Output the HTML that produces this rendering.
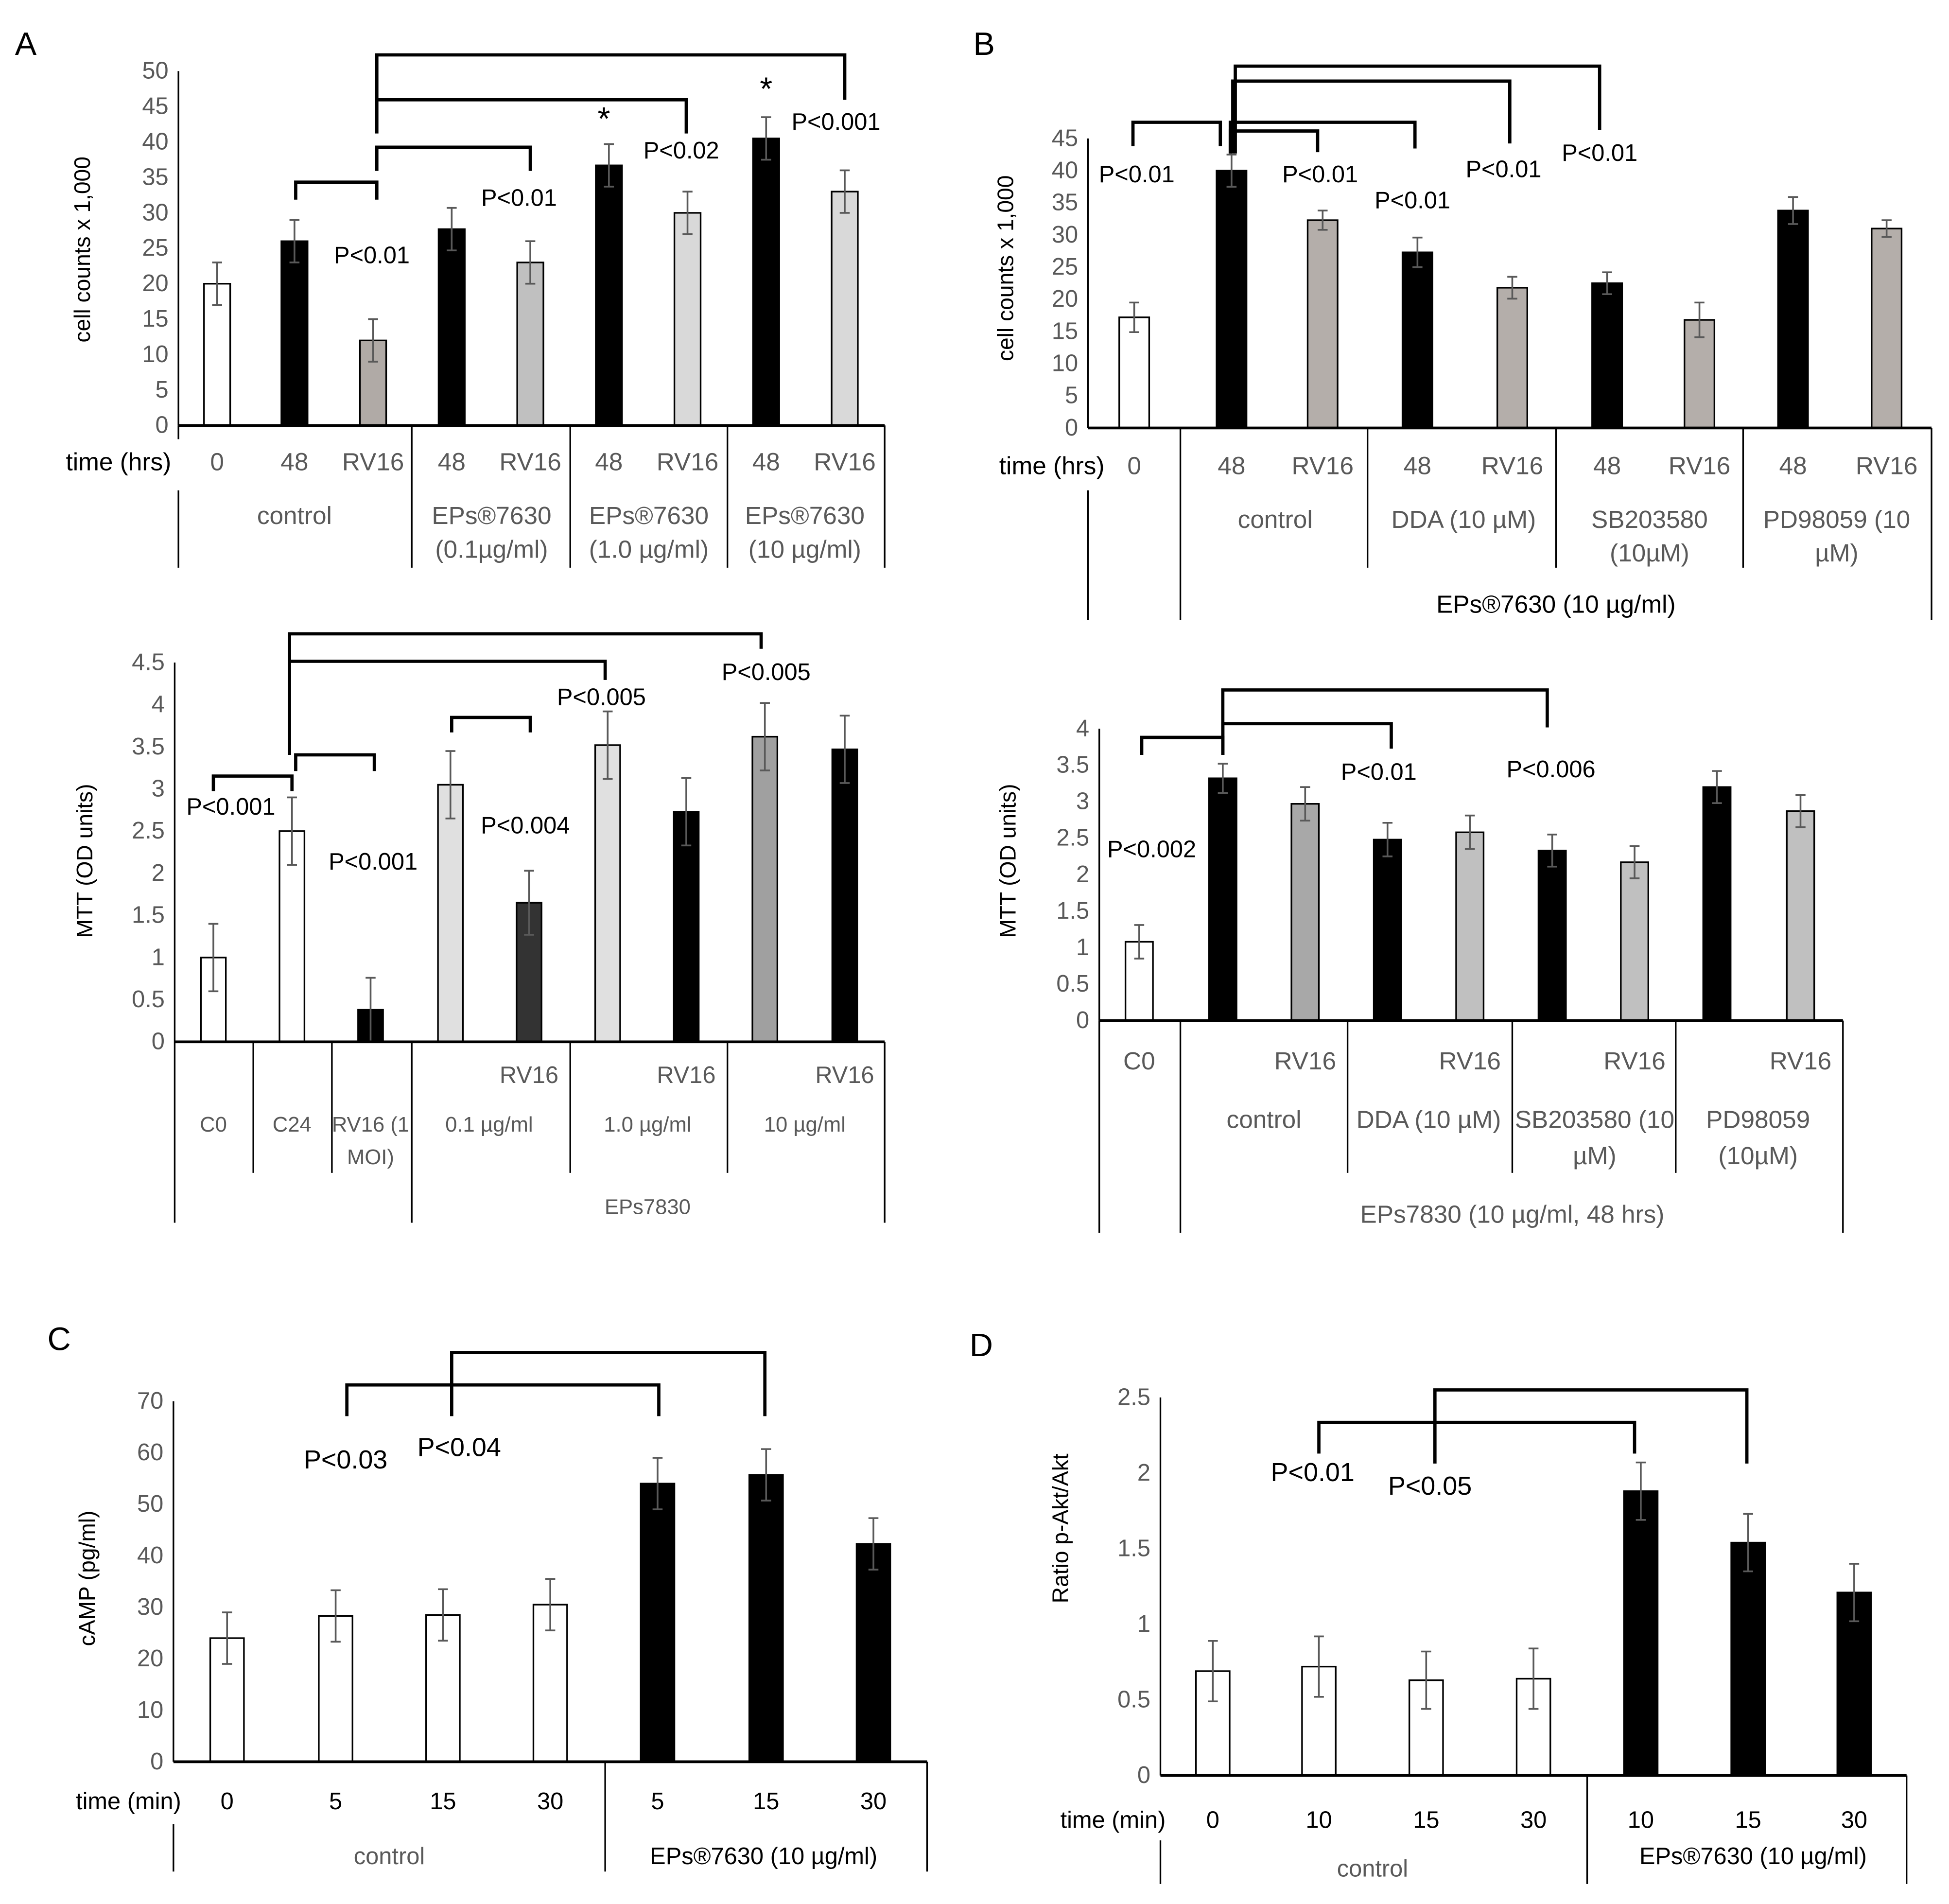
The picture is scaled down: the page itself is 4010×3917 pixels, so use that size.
<!DOCTYPE html>
<html><head><meta charset="utf-8">
<style>
html,body{margin:0;padding:0;background:#fff;}
svg{display:block;}
text{font-family:"Liberation Sans Narrow","Liberation Sans",sans-serif;}
</style></head>
<body>
<svg id="fig" width="4010" height="3917" viewBox="0 0 1562 1526" preserveAspectRatio="none" xmlns="http://www.w3.org/2000/svg">
<text x="12" y="44" font-size="26">A</text>
<text x="780" y="44" font-size="26">B</text>
<text x="38" y="1082" font-size="26">C</text>
<text x="777" y="1087" font-size="26">D</text>
</svg>
<script>
// ---- data ----
const a1Labels = ["0","48","RV16","48","RV16","48","RV16","48","RV16"];
const a1Values = [20,26,12,27.7,23,36.7,30,40.5,33];
const a1Errors = [3,3,3,3,3,3,3,3,3];
const a1Ticks = [0,5,10,15,20,25,30,35,40,45,50];

const a2Values = [1.0,2.5,0.38,3.05,1.65,3.52,2.73,3.62,3.47];
const a2Errors = [0.4,0.4,0.38,0.4,0.38,0.4,0.4,0.4,0.4];
const a2Ticks = [0,0.5,1,1.5,2,2.5,3,3.5,4,4.5];

const b1Labels = ["0","48","RV16","48","RV16","48","RV16","48","RV16"];
const b1Values = [17.2,40,32.3,27.3,21.8,22.5,16.8,33.8,31];
const b1Errors = [2.3,2.5,1.5,2.3,1.7,1.7,2.7,2.1,1.3];
const b1Ticks = [0,5,10,15,20,25,30,35,40,45];

const b2Values = [1.08,3.32,2.97,2.48,2.58,2.33,2.17,3.2,2.87];
const b2Errors = [0.23,0.2,0.23,0.23,0.23,0.22,0.22,0.22,0.22];
const b2Ticks = [0,0.5,1,1.5,2,2.5,3,3.5,4];

const cLabels = ["0","5","15","30","5","15","30"];
const cValues = [24,28.3,28.5,30.5,54,55.7,42.3];
const cErrors = [5,5,5,5,5,5,5];
const cTicks = [0,10,20,30,40,50,60,70];

const dLabels = ["0","10","15","30","10","15","30"];
const dValues = [0.69,0.72,0.63,0.64,1.88,1.54,1.21];
const dErrors = [0.2,0.2,0.19,0.2,0.19,0.19,0.19];
const dTicks = [0,0.5,1,1.5,2,2.5];

const NS="http://www.w3.org/2000/svg";
const svg=document.getElementById('fig');
function el(tag,attrs,parent){const e=document.createElementNS(NS,tag);for(const k in attrs)e.setAttribute(k,attrs[k]);(parent||svg).appendChild(e);return e;}
function line(x1,y1,x2,y2,w,name,p){const l=el('line',{x1,y1,x2,y2,stroke:'#000','stroke-width':w||1.3},p);

return l;}
function txt(x,y,s,size,color,name,anchor,p){const t=el('text',{x,y,'font-size':size,fill:color||'#000','text-anchor':anchor||'middle'},p);t.textContent=s;

return t;}
function bracket(x1,x2,top,yl,yr,name){const p=el('path',{d:`M${x1},${yl} L${x1},${top} L${x2},${top} L${x2},${yr}`,fill:'none',stroke:'#000','stroke-width':2.6});

}

function chart(cfg){
  const g=el('g',{});
  
  
  const y=v=>cfg.y0-(v-cfg.ticks[0])/(cfg.ticks[cfg.ticks.length-1]-cfg.ticks[0])*(cfg.y0-cfg.yTop);
  cfg.ticks.forEach(t=>{txt(cfg.ax-8,y(t)+6,String(t),cfg.tickSize||19,'#595959','y-tick-label','end',g);});
  line(cfg.ax,y(cfg.ticks[cfg.ticks.length-1]),cfg.ax,cfg.y0,1.3,'y-axis',g);
  cfg.values.forEach((v,i)=>{
    const cx=cfg.xs[i],w=cfg.bw;
    const r=el('rect',{x:cx-w/2,y:y(v),width:w,height:cfg.y0-y(v),fill:cfg.colors[i],stroke:'#000','stroke-width':1.3},g);
    
    
    const e=cfg.errors[i],c='#595959';
    const eb=el('path',{d:`M${cx},${y(v+e)} L${cx},${y(Math.max(0,v-e))} M${cx-4},${y(v+e)} L${cx+4},${y(v+e)} M${cx-4},${y(Math.max(0,v-e))} L${cx+4},${y(Math.max(0,v-e))}`,stroke:c,'stroke-width':1.4,fill:'none'},g);
    
    
  });
  line(cfg.ax,cfg.y0,cfg.axEnd,cfg.y0,2.2,'x-axis',g);
  return y;
}

// Panel A top
chart({name:'panel-a-cell-counts',ax:143,axEnd:709,y0:341,yTop:57,ticks:a1Ticks,values:a1Values,errors:a1Errors,bw:21,
 xs:[174,236,299,362,425,488,551,614,677],colors:['#fff','#000','#b0aaa6','#000','#c0c0c0','#000','#d9d9d9','#000','#d9d9d9']});
a1Labels.forEach((s,i)=>txt([174,236,299,362,425,488,551,614,677][i],377,s,20,'#595959','x-tick-label'));
txt(95,377,'time (hrs)',20,'#000','x-axis-title');
[[330,341,455],[457,341,455],[583,341,455],[709,341,455],[143,341,352],[143,393,455]].forEach(a=>line(a[0],a[1],a[0],a[2],1.3,'category-divider'));
txt(236,420,'control',20,'#595959','group-label-control');
[[394,'(0.1µg/ml)'],[520,'(1.0 µg/ml)'],[645,'(10 µg/ml)']].forEach(a=>{txt(a[0],420,'EPs®7630',20,'#595959','group-label-eps');txt(a[0],447,a[1],20,'#595959','group-label-dose');});
txt(-200,72,'cell counts x 1,000',18,'#000','y-axis-title').setAttribute('transform','rotate(-90)');
bracket(237,302,146,160,160,'bracket-48-rv16');
bracket(302,425,118,137,137,'bracket-rv16-0.1');
bracket(302,550,80,107,107,'bracket-rv16-1.0');
bracket(302,677,44,80,80,'bracket-rv16-10');
txt(298,211,'P<0.01',19,'#000','p-value');
txt(416,165,'P<0.01',19,'#000','p-value');
txt(546,127,'P<0.02',19,'#000','p-value');
txt(670,104,'P<0.001',19,'#000','p-value');
txt(484,104,'*',26,'#000','significance-star');
txt(614,80,'*',26,'#000','significance-star');

// Panel A bottom
chart({name:'panel-a-mtt',ax:140,axEnd:709,y0:835,yTop:531,ticks:a2Ticks,values:a2Values,errors:a2Errors,bw:20,
 xs:[171,234,297,361,424,487,550,613,677],colors:['#fff','#fff','#000','#e0e0e0','#333','#e0e0e0','#000','#a0a0a0','#000']});
[[203,835,940],[266,835,940],[457,835,940],[583,835,940],[330,835,980],[709,835,980],[140,835,980]].forEach(a=>line(a[0],a[1],a[0],a[2],1.3,'category-divider'));
[424,550,677].forEach(x=>txt(x,868,'RV16',19,'#595959','x-tick-label'));
txt(171,907,'C0',17,'#595959','x-tick-label');txt(234,907,'C24',17,'#595959','x-tick-label');
txt(297,907,'RV16 (1',17,'#595959','x-tick-label');txt(297,933,'MOI)',17,'#595959','x-tick-label');
txt(392,907,'0.1 µg/ml',17,'#595959','group-label');txt(519,907,'1.0 µg/ml',17,'#595959','group-label');txt(645,907,'10 µg/ml',17,'#595959','group-label');
txt(519,973,'EPs7830',17,'#595959','group-label-eps');
txt(-690,74,'MTT (OD units)',18,'#000','y-axis-title').setAttribute('transform','rotate(-90)');
bracket(171,234,622,634,634,'bracket-c0-c24');
bracket(237,300,605,618,618,'bracket-c24-rv16');
bracket(362,425,575,587,587,'bracket-0.1');
bracket(232,485,530,605,545,'bracket-c24-1.0');
bracket(232,610,508,530,520,'bracket-c24-10');
txt(185,653,'P<0.001',19,'#000','p-value');txt(299,697,'P<0.001',19,'#000','p-value');
txt(421,668,'P<0.004',19,'#000','p-value');txt(482,565,'P<0.005',19,'#000','p-value');txt(614,545,'P<0.005',19,'#000','p-value');

// Panel B top
const bx1=[909,987,1060,1136,1212,1288,1362,1437,1512];
chart({name:'panel-b-cell-counts',ax:872,axEnd:1548,y0:343,yTop:111,ticks:b1Ticks,values:b1Values,errors:b1Errors,bw:24,
 xs:bx1,colors:['#fff','#000','#b4aeaa','#000','#b4aeaa','#000','#b4aeaa','#000','#b4aeaa']});
b1Labels.forEach((s,i)=>txt(bx1[i],380,s,20,'#595959','x-tick-label'));
txt(843,380,'time (hrs)',20,'#000','x-axis-title');
[[1096,343,455],[1247,343,455],[1397,343,455],[946,343,497],[1548,343,497],[872,393,497]].forEach(a=>line(a[0],a[1],a[0],a[2],1.3,'category-divider'));
txt(1022,423,'control',20,'#595959','group-label');txt(1173,423,'DDA (10 µM)',20,'#595959','group-label');
txt(1322,423,'SB203580',20,'#595959','group-label');txt(1322,450,'(10µM)',20,'#595959','group-label');
txt(1472,423,'PD98059 (10',20,'#595959','group-label');txt(1472,450,'µM)',20,'#595959','group-label');
txt(1247,491,'EPs®7630 (10 µg/ml)',20,'#000','group-label-eps');
txt(-215,812,'cell counts x 1,000',18,'#000','y-axis-title').setAttribute('transform','rotate(-90)');
bracket(908,978,98,117,117,'bracket-0-48');
bracket(986,1056,105,123,122,'bracket-48-rv16');
bracket(986,1134,98,123,119,'bracket-48-dda');
bracket(988,1210,65,123,115,'bracket-48-ddarv');
bracket(990,1282,53,123,104,'bracket-48-sb');
txt(911,146,'P<0.01',19,'#000','p-value');txt(1058,146,'P<0.01',19,'#000','p-value');
txt(1132,167,'P<0.01',19,'#000','p-value');txt(1205,142,'P<0.01',19,'#000','p-value');txt(1282,129,'P<0.01',19,'#000','p-value');

// Panel B bottom
const bx2=[913,980,1046,1112,1178,1244,1310,1376,1443];
chart({name:'panel-b-mtt',ax:881,axEnd:1477,y0:818,yTop:584,ticks:b2Ticks,values:b2Values,errors:b2Errors,bw:22,
 xs:bx2,colors:['#fff','#000','#a8a8a8','#000','#c0c0c0','#000','#c0c0c0','#000','#c0c0c0']});
[[1080,818,940],[1212,818,940],[1343,818,940],[946,818,988],[1477,818,988],[881,818,988]].forEach(a=>line(a[0],a[1],a[0],a[2],1.3,'category-divider'));
txt(913,857,'C0',20,'#595959','x-tick-label');
[1046,1178,1310,1443].forEach(x=>txt(x,857,'RV16',20,'#595959','x-tick-label'));
txt(1013,904,'control',20,'#595959','group-label');txt(1145,904,'DDA (10 µM)',20,'#595959','group-label');
txt(1278,904,'SB203580 (10',20,'#595959','group-label');txt(1278,933,'µM)',20,'#595959','group-label');
txt(1409,904,'PD98059',20,'#595959','group-label');txt(1409,933,'(10µM)',20,'#595959','group-label');
txt(1212,980,'EPs7830 (10 µg/ml, 48 hrs)',20,'#595959','group-label-eps');
txt(-690,814,'MTT (OD units)',18,'#000','y-axis-title').setAttribute('transform','rotate(-90)');
bracket(915,980,591,605,605,'bracket-c0-48');
bracket(980,1115,580,605,600,'bracket-48-dda');
bracket(980,1240,553,605,583,'bracket-48-sb');
txt(923,687,'P<0.002',19,'#000','p-value');txt(1105,625,'P<0.01',19,'#000','p-value');txt(1243,623,'P<0.006',19,'#000','p-value');

// Panel C
const cx=[182,269,355,441,527,614,700];
chart({name:'panel-c-camp',ax:139,axEnd:743,y0:1412,yTop:1123,ticks:cTicks,values:cValues,errors:cErrors,bw:27,
 xs:cx,colors:['#fff','#fff','#fff','#fff','#000','#000','#000']});
cLabels.forEach((s,i)=>txt(cx[i],1450,s,19,'#000','x-tick-label'));
txt(103,1450,'time (min)',19,'#000','x-axis-title');
[[485,1412,1500],[743,1412,1500],[139,1462,1500]].forEach(a=>line(a[0],a[1],a[0],a[2],1.3,'category-divider'));
txt(312,1494,'control',19,'#595959','group-label');txt(612,1494,'EPs®7630 (10 µg/ml)',19,'#000','group-label-eps');
txt(-1265,76,'cAMP (pg/ml)',18,'#000','y-axis-title').setAttribute('transform','rotate(-90)');
bracket(278,528,1110,1135,1135,'bracket-c-5');
bracket(362,613,1084,1135,1135,'bracket-c-15');
txt(277,1177,'P<0.03',21,'#000','p-value');txt(368,1167,'P<0.04',21,'#000','p-value');

// Panel D
const dx=[972,1057,1143,1229,1315,1401,1486];
chart({name:'panel-d-akt',ax:930,axEnd:1528,y0:1423,yTop:1120,ticks:dTicks,values:dValues,errors:dErrors,bw:27,
 xs:dx,colors:['#fff','#fff','#fff','#fff','#000','#000','#000']});
dLabels.forEach((s,i)=>txt(dx[i],1465,s,19,'#000','x-tick-label'));
txt(892,1465,'time (min)',19,'#000','x-axis-title');
[[1272,1423,1510],[1528,1423,1510],[930,1475,1510]].forEach(a=>line(a[0],a[1],a[0],a[2],1.3,'category-divider'));
txt(1100,1504,'control',19,'#595959','group-label');txt(1405,1494,'EPs®7630 (10 µg/ml)',19,'#000','group-label-eps');
txt(-1225,856,'Ratio p-Akt/Akt',18,'#000','y-axis-title').setAttribute('transform','rotate(-90)');
bracket(1057,1310,1140,1165,1165,'bracket-d-10');
bracket(1150,1400,1114,1173,1173,'bracket-d-15');
txt(1052,1187,'P<0.01',21,'#000','p-value');txt(1146,1198,'P<0.05',21,'#000','p-value');
</script>
</body></html>
